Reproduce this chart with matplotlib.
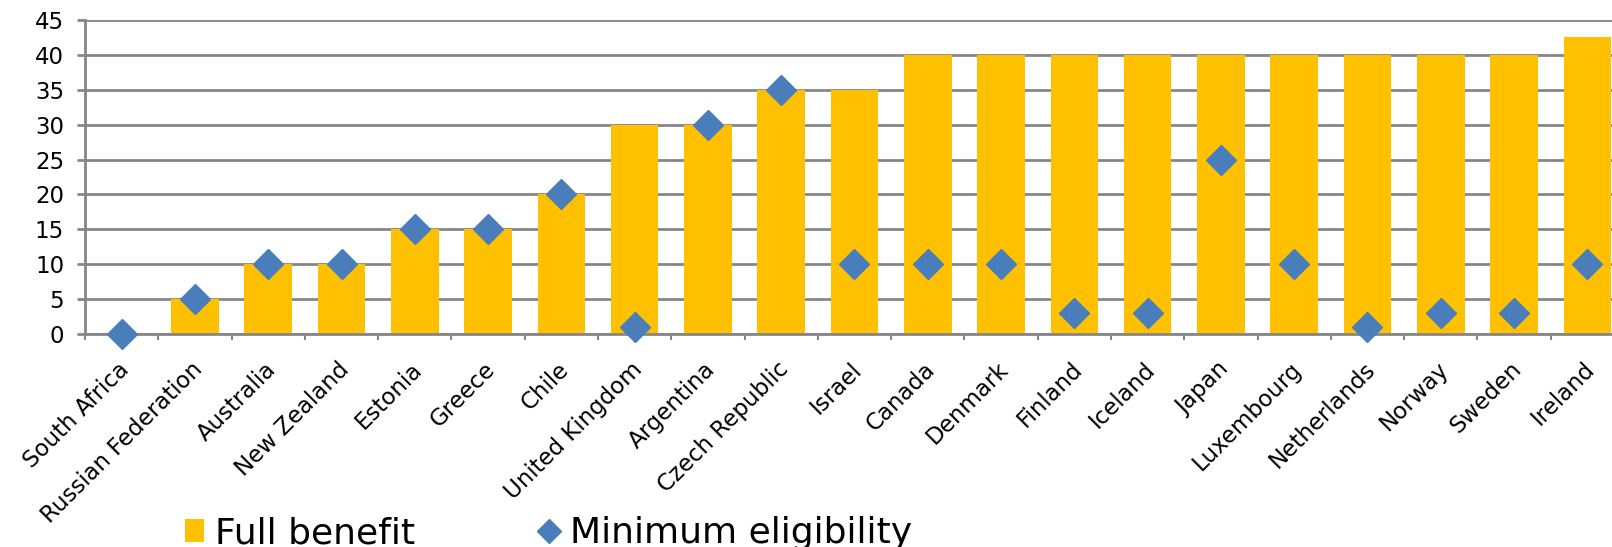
import matplotlib
matplotlib.use("Agg")
import matplotlib.pyplot as plt
import matplotlib.transforms as mtransforms
from matplotlib.lines import Line2D
from matplotlib.patches import Patch
import numpy as np

# years of contribution: full benefit vs minimum eligibility
countries = ["South Africa", "Russian Federation", "Australia", "New Zealand",
             "Estonia", "Greece", "Chile", "United Kingdom", "Argentina",
             "Czech Republic", "Israel", "Canada", "Denmark", "Finland",
             "Iceland", "Japan", "Luxembourg", "Netherlands", "Norway",
             "Sweden", "Ireland"]
full_benefit = [0, 5, 10, 10, 15, 15, 20, 30, 30, 35, 35,
                40, 40, 40, 40, 40, 40, 40, 40, 40, 42.5]
min_eligibility = [0, 5, 10, 10, 15, 15, 20, 1, 30, 35, 10,
                   10, 10, 3, 3, 25, 10, 1, 3, 3, 10]
yticks = list(range(0, 50, 5))

BAR = "#FFC000"
DIAMOND = "#4A7EBB"
GRID = "#868686"

plt.rcParams["font.family"] = "DejaVu Sans"

W, H = 1612, 547
fig = plt.figure(figsize=(W / 100, H / 100), dpi=100)
ax = fig.add_axes([85 / W, 213 / H, 1539 / W, 314 / H])

x = np.arange(len(countries))
ax.bar(x, full_benefit, width=0.65, color=BAR, zorder=2)
ax.plot(x, min_eligibility, linestyle="none", marker="D", markersize=15,
        color=DIAMOND, zorder=3, clip_on=False)

ax.set_xlim(-0.5, len(countries) - 0.5)
ax.set_ylim(0, 45)
ax.set_yticks(yticks)
ax.yaxis.grid(True, color=GRID, linewidth=2)
ax.set_axisbelow(True)

for side in ("top", "right"):
    ax.spines[side].set_visible(False)
for side in ("left", "bottom"):
    ax.spines[side].set_color(GRID)
    ax.spines[side].set_linewidth(2)

ax.tick_params(axis="y", length=6, width=2, color=GRID, pad=9, labelsize=16.5)

ax.set_xticks(x)
ax.set_xticklabels(countries, rotation=45, ha="right", rotation_mode="anchor",
                   fontsize=16.5)
ax.tick_params(axis="x", length=0, pad=17)
ax.set_xticks(np.arange(-0.5, len(countries), 1), minor=True)
ax.tick_params(axis="x", which="minor", length=4.5, width=1.5, color=GRID)

# nudge the slanted names a little left so they end under the bar centre
shift = mtransforms.ScaledTranslation(-4 / 100, 0, fig.dpi_scale_trans)
for lab in ax.get_xticklabels():
    lab.set_transform(lab.get_transform() + shift)

handles = [Patch(facecolor=BAR, edgecolor="none"),
           Line2D([], [], linestyle="none", marker="D", markersize=12.2,
                  color=DIAMOND)]
fig.legend(handles, ["Full benefit", "Minimum eligibility"],
           loc="lower left", bbox_to_anchor=(185 / W, -3 / H),
           ncol=2, frameon=False, prop={"size": 26},
           borderpad=0, borderaxespad=0,
           handlelength=0.53, handleheight=0.61, handletextpad=0.3,
           columnspacing=3.45)

fig.savefig("out.png", dpi=100)
